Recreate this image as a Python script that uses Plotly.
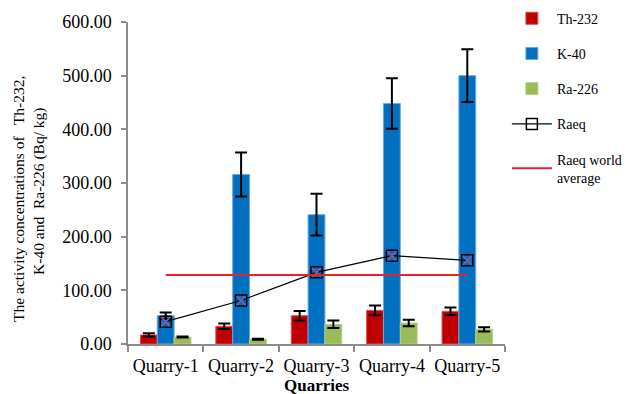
import plotly.graph_objects as go

categories = ["Quarry-1", "Quarry-2", "Quarry-3", "Quarry-4", "Quarry-5"]
th232 = [16.8, 33.0, 52.7, 62.7, 60.9]
th232_err = [3, 5, 9, 9, 7]
k40 = [52.7, 316.0, 241.0, 448.0, 500.0]
k40_err = [6, 41, 39, 47, 49]
ra226 = [13.0, 9.0, 36.6, 39.0, 27.3]
ra226_err = [1, 1, 7, 6, 4]
raeq = [41.6, 81.0, 133.5, 164.5, 156.0]
raeq_world = [128.5, 128.5, 128.5, 128.5, 128.5]
y_ticks = [0, 100, 200, 300, 400, 500, 600]
y_title_lines = ["The activity concentrations of&nbsp;&nbsp; Th-232,", "K-40 and&nbsp; Ra-226 (Bq/ kg)"]
x_title = "<b>Quarries</b>"

FONT = "Liberation Serif, Times New Roman, serif"

fig = go.Figure()

def bar(name, vals, errs, color, edge):
    fig.add_trace(go.Bar(
        x=categories, y=vals, name=name, legendgroup=name,
        marker=dict(color=color, line=dict(color=edge, width=1)),
        error_y=dict(type="data", array=errs, visible=True, color="black", thickness=2, width=6),
    ))

bar("Th-232", th232, th232_err, "#C00000", "#D85050")
bar("K-40", k40, k40_err, "#0070C0", "#6FA8DC")
bar("Ra-226", ra226, ra226_err, "#9BBB59", "#B5CF85")

fig.add_trace(go.Scatter(
    x=categories, y=raeq, name="Raeq", legendgroup="Raeq", mode="lines+markers",
    line=dict(color="black", width=1.2),
    marker=dict(symbol="square-open", size=11, color="black", line=dict(width=1.5)),
))
fig.add_trace(go.Scatter(
    x=categories, y=raeq, name="Raeq", legendgroup="Raeq", mode="markers", showlegend=False,
    marker=dict(symbol="x-thin-open", size=9, color="#7B5CA8", line=dict(width=1.8, color="#7B5CA8")),
    hoverinfo="skip",
))
fig.add_trace(go.Scatter(
    x=categories, y=raeq_world, name="Raeq world<br>average", legendgroup="world", mode="lines",
    line=dict(color="#E8232B", width=2),
))

annotations = [
    dict(text=y_title_lines[0], x=0, y=0.525, xref="paper", yref="paper", xanchor="center", yanchor="middle",
         xshift=-109, yshift=-24, textangle=-90, showarrow=False, font=dict(family=FONT, size=15.5, color="black")),
    dict(text=y_title_lines[1], x=0, y=0.525, xref="paper", yref="paper", xanchor="center", yanchor="middle",
         xshift=-89, yshift=-17, textangle=-90, showarrow=False, font=dict(family=FONT, size=15.5, color="black")),
    dict(text=x_title, x=0.5, y=0, xref="paper", yref="paper", xanchor="center", yanchor="middle",
         yshift=-41, showarrow=False, font=dict(family=FONT, size=17, color="black")),
]

fig.update_layout(
    width=639, height=394,
    margin=dict(l=128, r=134, t=22, b=50, autoexpand=False),
    paper_bgcolor="white", plot_bgcolor="white",
    barmode="group", bargap=0.33, bargroupgap=0.0,
    font=dict(family=FONT, color="black"),
    annotations=annotations,
    legend=dict(
        x=1.005, xanchor="left", y=1.06, yanchor="top",
        font=dict(family=FONT, size=14, color="black"),
        tracegroupgap=14, itemwidth=40, bgcolor="rgba(0,0,0,0)",
    ),
    xaxis=dict(
        showline=True, linecolor="#8c8c8c", linewidth=1.5,
        ticks="outside", tickson="boundaries", ticklen=6, tickcolor="#8c8c8c", tickwidth=1.5,
        tickangle=0, ticklabelstandoff=5,
        tickfont=dict(family=FONT, size=18, color="black"),
        showgrid=False, automargin=False,
    ),
    yaxis=dict(
        range=[0, 600], tickvals=y_ticks, tickformat=".2f",
        showline=True, linecolor="#8c8c8c", linewidth=1.5,
        ticks="outside", ticklen=5, tickcolor="#8c8c8c", tickwidth=1.5,
        ticklabelstandoff=6,
        tickfont=dict(family=FONT, size=18, color="black"),
        showgrid=False, zeroline=False, automargin=False,
    ),
)

fig.write_html("out.html", config={"displayModeBar": False},
               post_script="document.body.style.margin='0';document.body.style.overflow='hidden';")
